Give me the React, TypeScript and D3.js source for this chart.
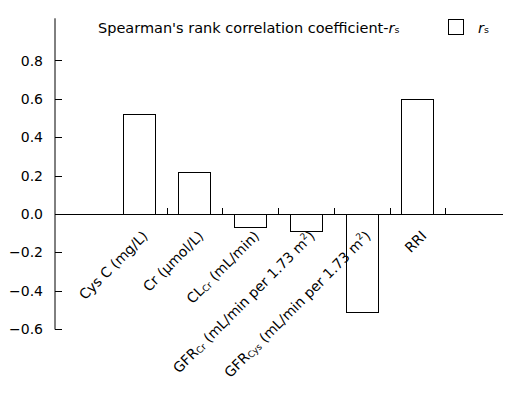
import React from 'react';
import * as d3 from 'd3';

// ---- data ----
const categories = ['CysC', 'Cr', 'CLCr', 'GFRCr', 'GFRCys', 'RRI'];
type Seg = [string, 'n' | 'sub' | 'sup'];
const categoryLabels: Seg[][] = [
  [['Cys C (mg/L)', 'n']],
  [['Cr (\u03BCmol/L)', 'n']],
  [['CL', 'n'], ['Cr', 'sub'], [' (mL/min)', 'n']],
  [['GFR', 'n'], ['Cr', 'sub'], [' (mL/min per 1.73 m', 'n'], ['2', 'sup'], [')', 'n']],
  [['GFR', 'n'], ['Cys', 'sub'], [' (mL/min per 1.73 m', 'n'], ['2', 'sup'], [')', 'n']],
  [['RRI', 'n']],
];
const rsValues = [0.52, 0.22, -0.07, -0.09, -0.51, 0.6];
const yTicks = [-0.6, -0.4, -0.2, 0.0, 0.2, 0.4, 0.6, 0.8];
const yDomain: [number, number] = [-0.6, 1.02];
const titleText = "Spearman's rank correlation coefficient-";
const seriesName = 'r';
const seriesSub = 's';

// ---- layout ----
const W = 522;
const H = 400;
const FONT = 'DejaVu Sans, Verdana, sans-serif';

export default function App() {
  const slots = ['_start', ...categories, '_end'];
  const x = d3.scaleBand<string>().domain(slots).range([55, 501]).paddingInner(0).paddingOuter(0);
  const y = d3.scaleLinear().domain(yDomain).range([329, 18.3]);
  const barW = 32;
  const y0 = y(0);

  const renderSegs = (segs: Seg[]) => {
    const out: React.ReactNode[] = [];
    let shift = 0;
    segs.forEach((s, i) => {
      let target = 0;
      let fs = 14;
      if (s[1] === 'sub') { target = 1; fs = 9; }
      if (s[1] === 'sup') { target = -6; fs = 9; }
      const dy = target - shift;
      shift = target;
      out.push(
        <tspan key={i} dy={dy} fontSize={fs}>{s[0]}</tspan>
      );
    });
    return out;
  };

  return (
    <svg width={W} height={H} style={{ position: 'absolute', left: 0, top: 0, background: '#fff' }}
      fontFamily={FONT}>
      <rect x={0} y={0} width={W} height={H} fill="#fff" />
      {/* title */}
      <text x={98} y={33} fontSize={14.5} fill="#000">
        {titleText}
        <tspan fontStyle="italic">{seriesName}</tspan>
        <tspan fontSize={9.5}>{seriesSub}</tspan>
      </text>
      {/* legend */}
      <rect x={448.5} y={19.5} width={15} height={15} fill="#fff" stroke="#000" strokeWidth={1} />
      <text x={478} y={33} fontSize={14.5} fill="#000">
        <tspan fontStyle="italic">{seriesName}</tspan>
        <tspan fontSize={9.5}>{seriesSub}</tspan>
      </text>

      {/* bars */}
      {categories.map((c, i) => {
        const cx = (x(c) as number) + x.bandwidth() / 2;
        const v = rsValues[i];
        const top = Math.min(y(v), y0);
        const h = Math.abs(y(v) - y0);
        return (
          <rect key={c} x={Math.round(cx - barW / 2) + 0.5} y={Math.round(top) + 0.5} width={barW}
            height={Math.round(h)} fill="#fff" stroke="#000" strokeWidth={1} />
        );
      })}

      {/* y axis */}
      <line x1={55} x2={55} y1={y(yDomain[1])} y2={y(yDomain[0]) + 0.5} stroke="#000" strokeWidth={1} />
      {yTicks.map((t) => (
        <g key={t}>
          <line x1={55} x2={62} y1={Math.round(y(t)) + 0.5} y2={Math.round(y(t)) + 0.5} stroke="#000" strokeWidth={1} />
          <text x={43} y={y(t)} dy="0.36em" textAnchor="end" fontSize={14} fill="#000">
            {d3.format('.1f')(t)}
          </text>
        </g>
      ))}

      {/* x axis */}
      <line x1={55} x2={503} y1={Math.round(y0) + 0.5} y2={Math.round(y0) + 0.5} stroke="#000" strokeWidth={1} />
      {categories.map((c) => {
        const tx = Math.round((x(c) as number) + x.bandwidth()) + 0.5;
        return <line key={'t' + c} x1={tx} x2={tx} y1={Math.round(y0) + 0.5} y2={Math.round(y0) - 6} stroke="#000" strokeWidth={1} />;
      })}

      {/* category labels */}
      {categories.map((c, i) => {
        const cx = (x(c) as number) + x.bandwidth() / 2 + 10;
        const ly = y0 + 23;
        return (
          <text key={'l' + c} x={0} y={0} transform={`translate(${cx},${ly}) rotate(-45)`}
            textAnchor="end" fontSize={14} fill="#000">
            {renderSegs(categoryLabels[i])}
          </text>
        );
      })}
    </svg>
  );
}
